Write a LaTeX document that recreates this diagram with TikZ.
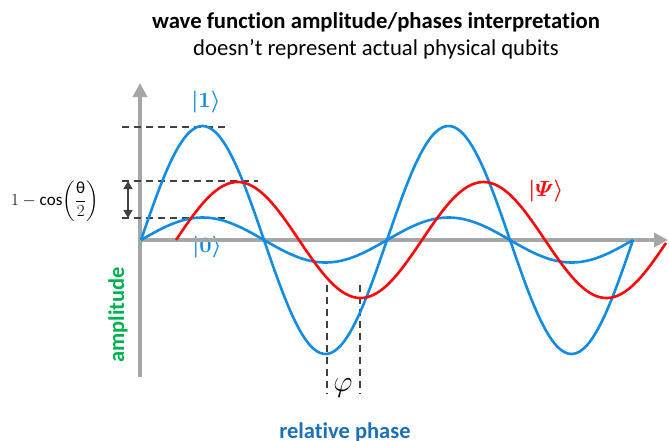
\RequirePackage{fix-cm}
\documentclass[tikz,border=0pt]{standalone}
\usepackage{amsmath,amssymb,bm}
\usepackage{fontspec}
\setmainfont{Carlito}[Ligatures=NoCommon]
\usetikzlibrary{positioning,arrows.meta,calc}
\definecolor{waveblue}{RGB}{18,140,226}
\definecolor{wavered}{RGB}{250,10,10}
\definecolor{axisgray}{RGB}{166,166,166}
\definecolor{guidegray}{RGB}{64,64,64}
\definecolor{ampgreen}{RGB}{0,176,80}
\definecolor{phaseblue}{RGB}{28,112,184}

\begin{document}
\begin{tikzpicture}[x=1pt, y=-1pt,
  axisline/.style = {line width=4.5pt, axisgray, -{Triangle[length=14pt,width=14pt]}},
  bluewave/.style = {line width=2.6pt, waveblue, line join=round},
  redwave/.style  = {bluewave, wavered},
  guide/.style    = {guidegray, line width=1.3pt, dash pattern=on 7pt off 5pt},
  span/.style     = {guidegray, line width=1.5pt, {Triangle[length=8pt,width=9pt]}-{Triangle[length=8pt,width=9pt]}},
  ket/.style      = {font=\fontsize{22}{26}\selectfont, inner sep=0pt},
  heading/.style  = {font=\fontsize{22.7}{27}\selectfont, anchor=base, inner sep=0pt},
  axlabel/.style  = {font=\fontsize{22.5}{27}\selectfont\bfseries, inner sep=0pt}]

\useasboundingbox (0,0) rectangle (669,440);

% titles
\node[heading, font=\fontsize{22.7}{27}\selectfont\bfseries] (title) at (376,28)
  {wave function amplitude/phases interpretation};
\node[heading] (subtitle) at (376,55) {doesn’t represent actual physical qubits};

% |0> sits under the axis
\node[ket, text=waveblue] (k0) at (207,247) {$\bm{|0\rangle}$};

% axes
\coordinate (origin) at (140,240);
\draw[axisline] (140,377) -- (140,83);
\draw[axisline] (138,240) -- (668,240);

% amplitude guides
\coordinate (g1a) at (122,127); \coordinate (g1b) at (230,127);
\coordinate (g2a) at (122,181); \coordinate (g2b) at (258,181);
\coordinate (g3a) at (122,218); \coordinate (g3b) at (230,218);
\draw[guide] (g1a) -- (g1b);
\draw[guide] (g2a) -- (g2b);
\draw[guide] (g3a) -- (g3b);
\coordinate (s1) at (128,181); \coordinate (s2) at (128,218);
\draw[span] (s1) -- (s2);

% phase guides
\coordinate (p1a) at (327,285); \coordinate (p1b) at (327,394);
\coordinate (p2a) at (360,285); \coordinate (p2b) at (360,394);
\draw[guide] (p1a) -- (p1b);
\draw[guide] (p2a) -- (p2b);

% the two basis waves and the superposition (period 246, 1.4634 deg per unit)
\draw[bluewave] plot[domain=141:633, samples=160, smooth]
  (\x, {240-114*sin(1.4634*(\x-141))});
\draw[bluewave] plot[domain=141:633, samples=160, smooth]
  (\x, {240-22.5*sin(1.4634*(\x-141))});
\draw[redwave] plot[domain=176:666, samples=160, smooth]
  (\x, {240-58*sin(1.4634*(\x-176))});

% labels
\node[ket, text=waveblue] (k1) at (206,102) {$\bm{|1\rangle}$};
\node[ket, text=wavered] (kpsi) at (546,191) {$\bm{|\varPsi\rangle}$};
\node[font=\fontsize{17}{20}\selectfont, inner sep=0pt] (gap) at (55,201)
  {$1-\cos\biggl(\dfrac{\text{θ}}{2}\biggr)$};
\node[font=\fontsize{24.88}{30}\selectfont, inner sep=0pt, scale=1.2] (phi) at (343,388) {$\varphi$};
\node[axlabel, text=ampgreen, rotate=90] (amp) at (118,315) {amplitude};
\node[axlabel, text=phaseblue, anchor=base] (rel) at (345,438) {relative phase};

\end{tikzpicture}
\end{document}
